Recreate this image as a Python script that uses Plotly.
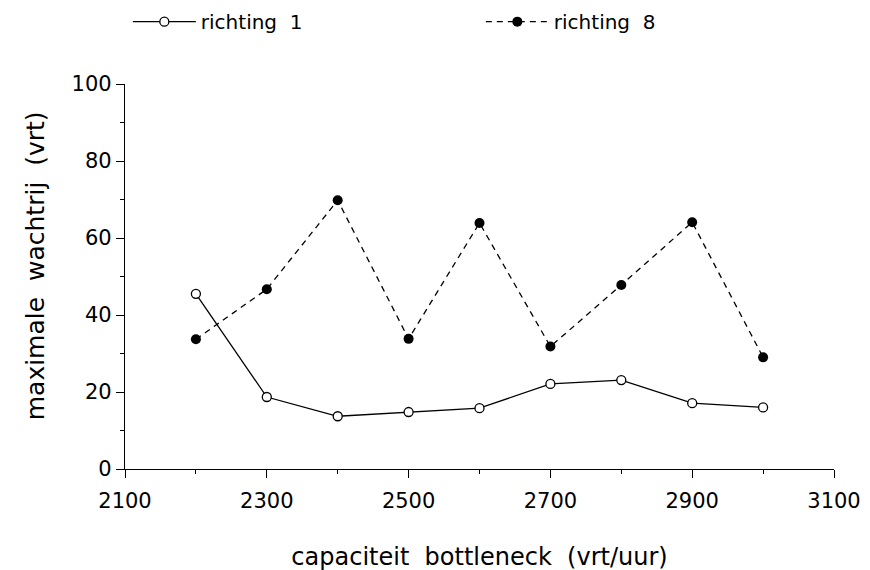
import plotly.graph_objects as go

capaciteit = [2200, 2300, 2400, 2500, 2600, 2700, 2800, 2900, 3000]
richting_1 = [45.5, 18.7, 13.7, 14.8, 15.8, 22.1, 23.1, 17.1, 16.0]
richting_8 = [33.7, 46.7, 69.8, 33.8, 63.9, 31.8, 47.8, 64.1, 29.0]
x_ticks = [2100, 2300, 2500, 2700, 2900, 3100]
y_ticks = [0, 20, 40, 60, 80, 100]

FONT = "DejaVu Sans"

fig = go.Figure()
fig.add_trace(go.Scatter(
    x=capaciteit, y=richting_1, name="richting  1", mode="lines+markers",
    line=dict(color="black", width=1.3, dash="solid"),
    marker=dict(symbol="circle", size=9, color="white", line=dict(color="black", width=1.3)),
))
fig.add_trace(go.Scatter(
    x=capaciteit, y=richting_8, name="richting  8", mode="lines+markers",
    line=dict(color="black", width=1.3, dash="6px,5px"),
    marker=dict(symbol="circle", size=10, color="black", line=dict(color="black", width=0)),
))

fig.update_layout(
    width=870, height=570,
    paper_bgcolor="white", plot_bgcolor="white",
    margin=dict(l=117, r=44, t=76, b=109, autoexpand=False),
    font=dict(family=FONT, color="black", size=21),
    legend=dict(orientation="h", x=0.004, xanchor="left", y=1.162, yanchor="middle",
                font=dict(size=20, family=FONT), entrywidth=275, itemwidth=63,
                bgcolor="rgba(0,0,0,0)", borderwidth=0),
    showlegend=True,
    annotations=[dict(
        text="maximale  wachtrij  (vrt)", textangle=-90,
        xref="paper", yref="paper", x=-0.127, y=0.529,
        xanchor="center", yanchor="middle", showarrow=False,
        font=dict(size=25, family=FONT, color="black"),
    )],
)
fig.update_xaxes(
    range=[2100, 3100], tickvals=x_ticks, ticktext=[str(v) for v in x_ticks],
    showgrid=False, zeroline=False, showline=True, linecolor="black", linewidth=1.3,
    ticks="outside", ticklen=8, tickwidth=1.2, tickcolor="black",
    minor=dict(dtick=100, ticks="outside", ticklen=4, tickwidth=1, tickcolor="black"),
    tickfont=dict(size=21), automargin=False, ticklabelstandoff=5,
    title=dict(text="capaciteit  bottleneck  (vrt/uur)", font=dict(size=24), standoff=35),
)
fig.update_yaxes(
    range=[0, 100], tickvals=y_ticks,
    showgrid=False, zeroline=False, showline=True, linecolor="black", linewidth=1.3,
    ticks="outside", ticklen=8, tickwidth=1.2, tickcolor="black",
    minor=dict(dtick=10, ticks="outside", ticklen=4, tickwidth=1, tickcolor="black"),
    tickfont=dict(size=21), automargin=False,
)

fig.write_html("out.html")
